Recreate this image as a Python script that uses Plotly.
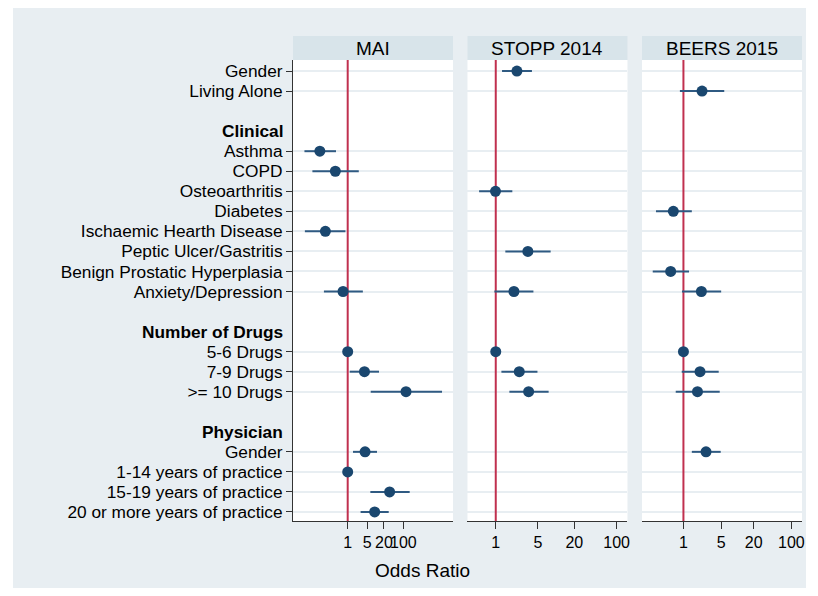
import plotly.graph_objects as go
from plotly.subplots import make_subplots

# ---------------- data ----------------
categories = [
    "Gender", "Living Alone", "", "Clinical", "Asthma", "COPD", "Osteoarthritis",
    "Diabetes", "Ischaemic Hearth Disease", "Peptic Ulcer/Gastritis",
    "Benign Prostatic Hyperplasia", "Anxiety/Depression", "", "Number of Drugs",
    "5-6 Drugs", "7-9 Drugs", ">= 10 Drugs", "", "Physician", "Gender",
    "1-14 years of practice", "15-19 years of practice", "20 or more years of practice",
]
group_headers = ["Clinical", "Number of Drugs", "Physician"]
panels = ["MAI", "STOPP 2014", "BEERS 2015"]
x_ticks = [1, 5, 20, 100]

N = None
mai_or = [N, N, N, N, 0.10, 0.36, N, N, 0.158, N, N, 0.68, N, N, 1.0, 4.0, 124, N, N, 4.2, 1.0, 32, 9.3]
mai_lo = [N, N, N, N, 0.028, 0.054, N, N, 0.029, N, N, 0.14, N, N, N, 1.18, 6.7, N, N, 1.55, N, 6.5, 2.9]
mai_hi = [N, N, N, N, 0.38, 2.5, N, N, 0.83, N, N, 3.5, N, N, N, 13.3, 2440, N, N, 11.3, N, 168, 29.7]

stopp_or = [2.24, N, N, N, N, N, 0.99, N, N, 3.4, N, 2.0, N, N, 1.0, 2.45, 3.5, N, N, N, N, N, N]
stopp_lo = [1.27, N, N, N, N, N, 0.53, N, N, 1.44, N, 0.95, N, N, N, 1.24, 1.68, N, N, N, N, N, N]
stopp_hi = [3.97, N, N, N, N, N, 1.88, N, N, 8.1, N, 4.2, N, N, N, 4.9, 7.5, N, N, N, N, N, N]

beers_or = [N, 2.21, N, N, N, N, N, 0.65, N, N, 0.58, 2.15, N, N, 1.0, 2.03, 1.82, N, N, 2.62, N, N, N]
beers_lo = [N, 0.86, N, N, N, N, N, 0.31, N, N, 0.27, 0.94, N, N, N, 0.93, 0.72, N, N, 1.43, N, N, N]
beers_hi = [N, 5.7, N, N, N, N, N, 1.43, N, N, 1.27, 5.0, N, N, N, 4.5, 4.7, N, N, 4.9, N, N, N]

panel_data = [(mai_or, mai_lo, mai_hi), (stopp_or, stopp_lo, stopp_hi), (beers_or, beers_lo, beers_hi)]
x_ranges = [[-1.964, 3.78], [-0.468, 2.18], [-0.767, 2.196]]

# ---------------- styles ----------------
FONT = "Arial, Liberation Sans, sans-serif"
OUTER_BG = "#e8eef2"
STRIP_BG = "#d8e4ea"
NAVY = "#1a476f"
CI_COL = "#2f5a82"
REF_COL = "#c0304f"
GRID_COL = "#e8eef2"
AXIS_COL = "#333333"

OFF = 8  # page body margin of the html page
PAGE_W, PAGE_H = 818, 596
W, H = PAGE_W - OFF, PAGE_H - OFF
# plot area in page pixel coordinates
P_LEFT, P_RIGHT, P_TOP, P_BOTTOM = 293, 802, 60, 521
ML = P_LEFT - OFF
MT = P_TOP - OFF
MR = PAGE_W - P_RIGHT
MB = PAGE_H - P_BOTTOM
PW = P_RIGHT - P_LEFT
PH = P_BOTTOM - P_TOP

def px_x(p):
    return (p - P_LEFT) / PW

def px_y(p):
    return (P_BOTTOM - p) / PH

fig = make_subplots(rows=1, cols=3, shared_yaxes=True, horizontal_spacing=0.03)
domains = [[0.0, 0.3143], [0.3428, 0.6571], [0.6857, 1.0]]

y_range = [len(categories) - 0.55, -0.55]
y_ticks = [i for i, c in enumerate(categories) if c and c not in group_headers]
y_text = [categories[i] for i in y_ticks]

for k, (ors, los, his) in enumerate(panel_data):
    col = k + 1
    # reference line at OR = 1
    fig.add_trace(go.Scatter(x=[1, 1], y=y_range, mode="lines",
                             line=dict(color=REF_COL, width=2), hoverinfo="skip",
                             showlegend=False), row=1, col=col)
    xs, ys, ep, em = [], [], [], []
    for i, v in enumerate(ors):
        if v is None:
            continue
        xs.append(v)
        ys.append(i)
        ep.append((his[i] - v) if his[i] is not None else 0)
        em.append((v - los[i]) if los[i] is not None else 0)
    fig.add_trace(go.Scatter(
        x=xs, y=ys, mode="markers",
        marker=dict(color=NAVY, size=11, line=dict(width=0)),
        error_x=dict(type="data", symmetric=False, array=ep, arrayminus=em,
                     color=CI_COL, thickness=2, width=0),
        showlegend=False), row=1, col=col)

    xa = "xaxis" if k == 0 else f"xaxis{k+1}"
    fig.layout[xa].update(
        type="log", range=x_ranges[k], domain=domains[k],
        tickvals=x_ticks, ticktext=[str(t) for t in x_ticks], tickangle=0,
        ticks="outside", ticklen=7, tickcolor=AXIS_COL, tickwidth=1,
        showline=True, linecolor=AXIS_COL, linewidth=1, showgrid=False,
        zeroline=False, tickfont=dict(family=FONT, size=16, color="black"),
    )
    ya = "yaxis" if k == 0 else f"yaxis{k+1}"
    fig.layout[ya].update(
        range=y_range, tickvals=y_ticks, ticktext=y_text if k == 0 else None,
        showticklabels=(k == 0), ticks="outside" if k == 0 else "",
        ticklen=6, tickcolor=AXIS_COL, showline=(k == 0), linecolor=AXIS_COL,
        linewidth=1, showgrid=True, gridcolor=GRID_COL, gridwidth=1.5,
        zeroline=False, tickfont=dict(family=FONT, size=17.3, color="black"),
    )
    # header strip
    xdom = "x domain" if k == 0 else f"x{k+1} domain"
    fig.add_shape(type="rect", xref=xdom, yref="paper", x0=0, x1=1,
                  y0=1.0, y1=px_y(36), fillcolor=STRIP_BG, line=dict(width=0))
    fig.add_annotation(text=panels[k], xref=xdom, yref="paper", x=0.5,
                       y=(1.0 + px_y(36)) / 2, showarrow=False, yanchor="middle",
                       font=dict(family=FONT, size=19, color="black"))

# group headers in bold
for h in group_headers:
    fig.add_annotation(text=f"<b>{h}</b>", xref="paper", yref="y", x=0,
                       y=categories.index(h), xanchor="right", xshift=-8,
                       showarrow=False, font=dict(family=FONT, size=17.3, color="black"))

# x axis title
fig.add_annotation(text="Odds Ratio", xref="paper", yref="paper", x=px_x(422),
                   y=px_y(570), showarrow=False, xanchor="center", yanchor="middle",
                   font=dict(family=FONT, size=19, color="black"))

# white outer border around the graph region
for (x0, x1, y0, y1) in [
    (px_x(-20), px_x(13), px_y(620), px_y(-20)),
    (px_x(806), px_x(840), px_y(620), px_y(-20)),
    (px_x(-20), px_x(840), px_y(620), px_y(588)),
]:
    fig.add_shape(type="rect", xref="paper", yref="paper", x0=x0, x1=x1,
                  y0=y0, y1=y1, fillcolor="white", line=dict(width=0))

fig.update_layout(
    width=W, height=H, margin=dict(l=ML, r=MR, t=MT, b=MB),
    paper_bgcolor=OUTER_BG, plot_bgcolor="white", showlegend=False,
    font=dict(family=FONT, color="black"),
)

fig.write_html("out.html")
